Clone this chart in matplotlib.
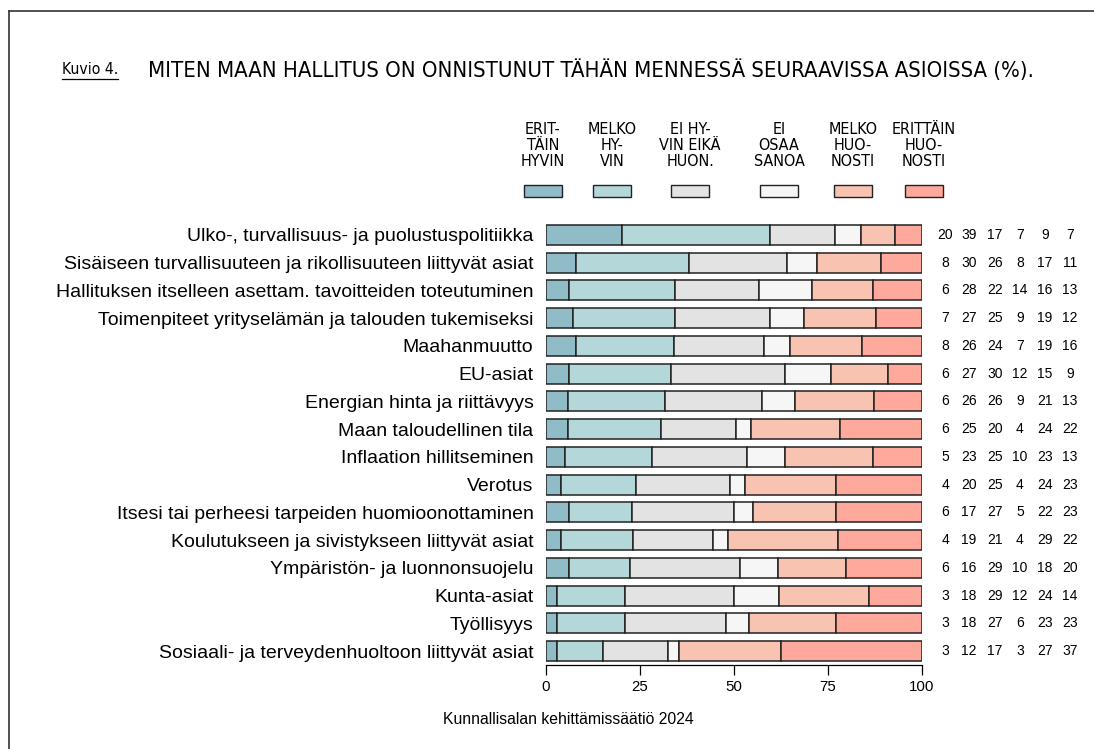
import matplotlib
matplotlib.use("Agg")
import matplotlib.pyplot as plt
from matplotlib import font_manager
from matplotlib.lines import Line2D
import numpy as np

plt.rcParams['font.family'] = ['Liberation Sans', 'DejaVu Sans']

# narrow face for the title and legend headers, if one is installed
_fonts = font_manager.fontManager.ttflist
if any(f.name == 'Liberation Sans Narrow' for f in _fonts):
    NARROW = dict(family='Liberation Sans Narrow')
elif any(f.name == 'DejaVu Sans' and f.stretch == 'condensed' for f in _fonts):
    NARROW = dict(family='DejaVu Sans', fontstretch='condensed')
else:
    NARROW = dict(family='Liberation Sans')

TOPICS = [
    "Ulko-, turvallisuus- ja puolustuspolitiikka",
    "Sisäiseen turvallisuuteen ja rikollisuuteen liittyvät asiat",
    "Hallituksen itselleen asettam. tavoitteiden toteutuminen",
    "Toimenpiteet yrityselämän ja talouden tukemiseksi",
    "Maahanmuutto",
    "EU-asiat",
    "Energian hinta ja riittävyys",
    "Maan taloudellinen tila",
    "Inflaation hillitseminen",
    "Verotus",
    "Itsesi tai perheesi tarpeiden huomioonottaminen",
    "Koulutukseen ja sivistykseen liittyvät asiat",
    "Ympäristön- ja luonnonsuojelu",
    "Kunta-asiat",
    "Työllisyys",
    "Sosiaali- ja terveydenhuoltoon liittyvät asiat",
]

ERITTAIN_HYVIN = [20, 8, 6, 7, 8, 6, 6, 6, 5, 4, 6, 4, 6, 3, 3, 3]
MELKO_HYVIN = [39, 30, 28, 27, 26, 27, 26, 25, 23, 20, 17, 19, 16, 18, 18, 12]
EI_HYVIN_EIKA = [17, 26, 22, 25, 24, 30, 26, 20, 25, 25, 27, 21, 29, 29, 27, 17]
EI_OSAA = [7, 8, 14, 9, 7, 12, 9, 4, 10, 4, 5, 4, 10, 12, 6, 3]
MELKO_HUONOSTI = [9, 17, 16, 19, 19, 15, 21, 24, 23, 24, 22, 29, 18, 24, 23, 27]
ERITTAIN_HUONOSTI = [7, 11, 13, 12, 16, 9, 13, 22, 13, 23, 23, 22, 20, 14, 23, 37]

LEGEND_LABELS = [
    "ERIT-\nTÄIN\nHYVIN",
    "MELKO\nHY-\nVIN",
    "EI HY-\nVIN EIKÄ\nHUON.",
    "EI\nOSAA\nSANOA",
    "MELKO\nHUO-\nNOSTI",
    "ERITTÄIN\nHUO-\nNOSTI",
]
COLORS = ["#8fbcc7", "#b4d8da", "#e3e3e3", "#f6f6f6", "#f8c4b1", "#fea99b"]

TITLE = "MITEN MAAN HALLITUS ON ONNISTUNUT TÄHÄN MENNESSÄ SEURAAVISSA ASIOISSA (%)."
SOURCE = "Kunnallisalan kehittämissäätiö 2024"

series = np.array([ERITTAIN_HYVIN, MELKO_HYVIN, EI_HYVIN_EIKA,
                   EI_OSAA, MELKO_HUONOSTI, ERITTAIN_HUONOSTI], dtype=float)
shares = series / series.sum(axis=0) * 100

W, H = 1094, 749
fig = plt.figure(figsize=(W / 100, H / 100), dpi=100)

ax = fig.add_axes([546 / W, 1 - 665 / H, 376 / W, 444 / H])
y = np.arange(len(TOPICS))
left = np.zeros(len(TOPICS))
for i in range(len(series)):
    ax.barh(y, shares[i], left=left, height=0.72, color=COLORS[i],
            edgecolor="#222222", linewidth=1.1)
    left += shares[i]

ax.set_xlim(0, 100)
ax.set_ylim(15.5, -0.5)
ax.set_yticks(y)
ax.set_yticklabels(TOPICS, fontsize=14)
ax.tick_params(axis='y', length=0, pad=9)
ax.set_xticks([0, 25, 50, 75, 100])
ax.tick_params(axis='x', length=7, width=0.9, labelsize=10.8, pad=4)
for s in ["top", "right", "left"]:
    ax.spines[s].set_visible(False)
ax.spines["bottom"].set_linewidth(0.9)

# numbers on the right
col_x = [945, 969, 995, 1020, 1045, 1070]
for r in range(len(TOPICS)):
    yy = ax.transData.transform((0, r))[1]
    for c in range(len(series)):
        fig.text(col_x[c] / W, yy / H, str(int(series[c][r])), fontsize=10,
                 ha="center", va="center")

# legend
leg_x = [543, 612, 690, 779, 853, 924]
for lx, lab, col in zip(leg_x, LEGEND_LABELS, COLORS):
    fig.text(lx / W, 1 - 122 / H, lab, fontsize=11.5, **NARROW,
             ha="center", va="top", linespacing=1.1)
    fig.patches.append(plt.Rectangle(((lx - 19) / W, 1 - 197 / H), 38 / W, 12 / H,
                                     transform=fig.transFigure, facecolor=col,
                                     edgecolor="#222222", linewidth=1.0))

# title
t2 = fig.text(148 / W, 1 - 70 / H, TITLE, fontsize=13.5, **NARROW,
              ha="left", va="center")
t1 = fig.text(62 / W, 1 - 70 / H, "Kuvio 4.", fontsize=12.5, **NARROW,
              ha="left", va="center")

fig.text(568 / W, 1 - 719 / H, SOURCE, fontsize=11.3, ha="center", va="center")

# frame
fig.lines.append(Line2D([9 / W, 1], [1 - 11 / H, 1 - 11 / H],
                        transform=fig.transFigure, color="#333333", linewidth=1.2))
fig.lines.append(Line2D([9 / W, 9 / W], [0, 1 - 11 / H],
                        transform=fig.transFigure, color="#333333", linewidth=1.2))

# fit title widths to the reference span
fig.canvas.draw()
renderer = fig.canvas.get_renderer()
w2 = t2.get_window_extent(renderer).width
t2.set_fontsize(t2.get_fontsize() * 882 / w2)
w1 = t1.get_window_extent(renderer).width
t1.set_fontsize(t1.get_fontsize() * 56 / w1)

fig.canvas.draw()
bb = t1.get_window_extent(renderer)
fig.lines.append(Line2D([bb.x0 / W, bb.x1 / W], [(bb.y0 - 1) / H, (bb.y0 - 1) / H],
                        transform=fig.transFigure, color="black", linewidth=0.9))

fig.savefig("out.png", dpi=100)
